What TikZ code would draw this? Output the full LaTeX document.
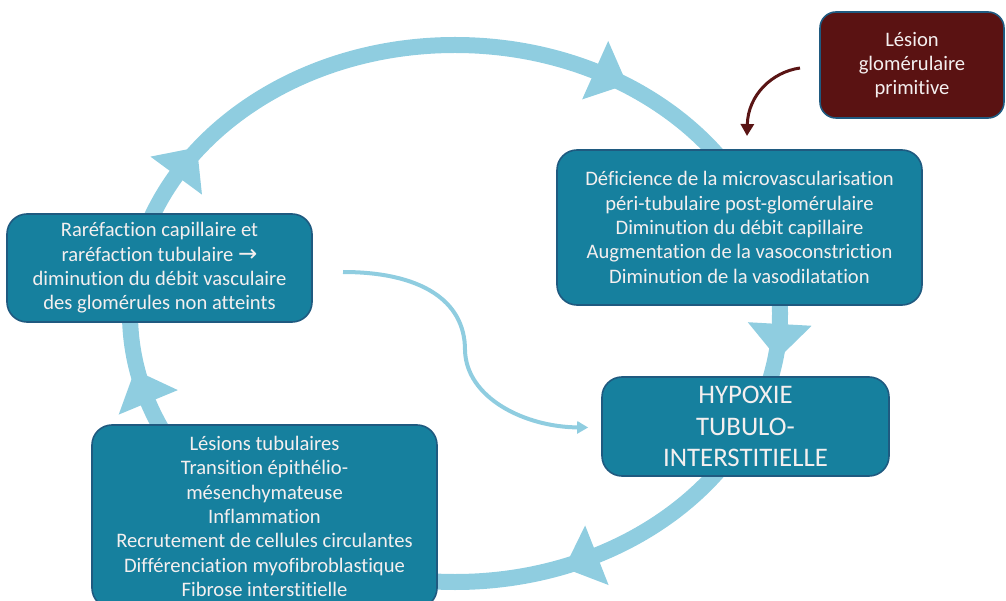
\documentclass[tikz,border=0pt]{standalone}
\usepackage{fontspec}
\setmainfont{Carlito}[Ligatures=NoCommon]
\newfontfamily\arrowfont{DejaVu Sans}
\usetikzlibrary{arrows.meta,calc}
\definecolor{ringc}{HTML}{8FCDE0}
\definecolor{boxc}{HTML}{16809E}
\definecolor{boxd}{HTML}{1F5A80}
\definecolor{redc}{HTML}{5A1212}
\definecolor{redarrow}{HTML}{5A1515}
\definecolor{txtc}{HTML}{F4EFEF}
\newcommand\ringhead[3]{\fill[ringc, shift={(#1,#2)}, rotate={-(#3)}] (-2,32) -- (33,0) -- (-2,-32) -- cycle;}
\begin{document}
\begin{tikzpicture}[x=1pt,y=-1pt,
  bx/.style={draw=boxd, line width=1.6pt, fill=boxc, rounded corners=20pt, text=txtc, align=center,
    font=\fontsize{20.6}{24.4}\selectfont, inner sep=0pt},
  redbox/.style={bx, fill=redc, rounded corners=16pt},
  bigtxt/.style={font=\fontsize{26.8}{31.5}\selectfont},
  thinc/.style={draw=ringc, line width=4pt, -{Triangle[length=11pt,width=12pt]}},
  redc/.style={draw=redarrow, line width=3pt, -{Triangle[length=12pt,width=13pt]}}]
\useasboundingbox (0,0) rectangle (1006,601);
% ring
\draw[ringc, line width=16pt] (455,313.5) ellipse [x radius=325, y radius=268.5];
\ringhead{147.5}{400.5}{-112.5}
\ringhead{177.4}{174}{-53.6}
\ringhead{597}{71}{24}
\ringhead{779.6}{326}{93.2}
\ringhead{595}{556}{158.5}
% boxes
\node[redbox, minimum width=184pt, minimum height=106pt] (lesion) at (912,65)
  {Lésion\\glomérulaire\\primitive};
\node[bx, minimum width=365pt, minimum height=155pt] (defic) at (739.5,227.5)
  {Déficience de la microvascularisation\\péri-tubulaire post-glomérulaire\\Diminution du débit capillaire\\Augmentation de la vasoconstriction\\Diminution de la vasodilatation};
\node[bx, minimum width=305pt, minimum height=108pt] (rare) at (159.5,268)
  {Raréfaction capillaire et\\raréfaction tubulaire {\arrowfont\fontsize{23}{24.4}\selectfont →}\\diminution du débit vasculaire\\des glomérules non atteints};
\node[bx, bigtxt, minimum width=287pt, minimum height=99pt] (hyp) at (745.5,426.5)
  {HYPOXIE\\TUBULO-\\INTERSTITIELLE};
\node[bx, minimum width=345pt, minimum height=183pt] (lesions) at (264.5,516.5)
  {Lésions tubulaires\\Transition épithélio-\\mésenchymateuse\\Inflammation\\Recrutement de cellules circulantes\\Différenciation myofibroblastique\\Fibrose interstitielle};
% thin connectors
\coordinate (cs) at (343,272);
\coordinate (ce) at ($(hyp.west)+(-13,1)$);
\draw[thinc] (cs) .. controls (420,272) and (465,300) .. (465,350)
  .. controls (466,398) and (525,427) .. (ce);
\coordinate (rs) at (800,68);
\coordinate (re) at (747,136);
\draw[redc] (rs) .. controls (772,72) and (748,95) .. (re);
\end{tikzpicture}
\end{document}
